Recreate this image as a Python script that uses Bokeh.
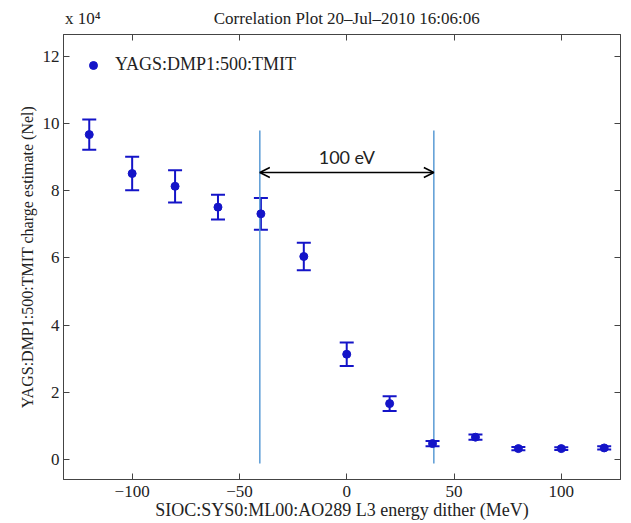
from bokeh.plotting import figure
from bokeh.models import (Whisker, TeeHead, Arrow, OpenHead, Legend, LegendItem,
                          LinearAxis, Label, ColumnDataSource, Range1d, FixedTicker,
                          CustomJSTickFormatter)
from bokeh.embed import file_html
from bokeh.resources import INLINE

# ---- data (charge in units of 1e4 Nel) ----
energy = [-120, -100, -80, -60, -40, -20, 0, 20, 40, 60, 80, 100, 120]
charge = [9.67, 8.51, 8.13, 7.51, 7.31, 6.04, 3.13, 1.66, 0.47, 0.66, 0.32, 0.32, 0.34]
charge_err = [0.45, 0.50, 0.48, 0.37, 0.47, 0.41, 0.35, 0.22, 0.08, 0.08, 0.05, 0.04, 0.05]
x_ticks = [-100, -50, 0, 50, 100]
y_ticks = [0, 2, 4, 6, 8, 10, 12]
window_x = [-40.5, 40.6]
window_y = [-0.12, 9.79]
arrow_y = 8.54
arrow_label = "100 eV"
series_name = "YAGS:DMP1:500:TMIT"
title_text = "Correlation Plot 20\u2013Jul\u20132010 16:06:06"
exponent_text = "x 10\u2074"
top_text_pos = [-123.0, 0]          # x positions of the exponent note and the title
top_texts = [exponent_text, title_text]
x_label = "SIOC:SYS0:ML00:AO289 L3 energy dither (MeV)"
y_label = "YAGS:DMP1:500:TMIT charge estimate (Nel)"

X_MIN, X_MAX = -132, 127.6
Y_MIN, Y_MAX = -0.6, 12.65

BLUE = "#1414c8"
SERIF = "Liberation Serif"
INK = "#222222"

src = ColumnDataSource(dict(
    x=energy, y=charge,
    upper=[c + e for c, e in zip(charge, charge_err)],
    lower=[c - e for c, e in zip(charge, charge_err)],
))

p = figure(width=631, height=523, output_backend="svg", toolbar_location=None,
           x_range=Range1d(X_MIN, X_MAX), y_range=Range1d(Y_MIN, Y_MAX),
           x_axis_location=None, y_axis_location=None,
           min_border_left=63, min_border_right=11, min_border_top=34, min_border_bottom=44)
p.grid.visible = False
p.outline_line_color = "#444444"
p.background_fill_color = "white"
p.border_fill_color = "white"

fmt = CustomJSTickFormatter(code="return tick < 0 ? '\\u2212' + Math.abs(tick) : String(tick);")
blank = CustomJSTickFormatter(code="return '';")


def style_axis(ax, labels=True):
    ax.major_tick_in = 6
    ax.major_tick_out = 0
    ax.minor_tick_in = 0
    ax.minor_tick_out = 0
    ax.axis_line_color = "#444444"
    ax.major_tick_line_color = "#444444"
    ax.major_label_text_font = SERIF
    ax.major_label_text_font_size = "17px"
    ax.major_label_text_color = INK
    ax.axis_label_text_font = SERIF
    ax.axis_label_text_font_size = "17px"
    ax.axis_label_text_font_style = "normal"
    ax.axis_label_text_color = INK
    if not labels:
        ax.major_label_text_font_size = "0px"
        ax.major_label_standoff = 0


xb = LinearAxis(ticker=FixedTicker(ticks=x_ticks), formatter=fmt, axis_label=x_label)
style_axis(xb)
xb.axis_label_text_font_size = "18px"
xb.major_label_standoff = 6
xb.axis_label_standoff = 0
p.add_layout(xb, "below")

yl = LinearAxis(ticker=FixedTicker(ticks=y_ticks), formatter=fmt, axis_label=y_label)
style_axis(yl)
yl.axis_label_text_font_size = "16px"
yl.major_label_standoff = 4
yl.axis_label_standoff = 4
p.add_layout(yl, "left")

xt = LinearAxis(ticker=FixedTicker(ticks=x_ticks), formatter=blank)
style_axis(xt, labels=False)
p.add_layout(xt, "above")

# title line (exponent note + title) drawn as a text row above the frame
title_axis = LinearAxis(ticker=FixedTicker(ticks=top_text_pos),
                        formatter=CustomJSTickFormatter(args=dict(labels=top_texts),
                                                        code="return labels[index];"))
style_axis(title_axis)
title_axis.major_tick_in = 0
title_axis.major_tick_out = 0
title_axis.axis_line_alpha = 0
title_axis.major_label_text_font_size = "17px"
title_axis.major_label_standoff = 7
p.add_layout(title_axis, "above")

yr = LinearAxis(ticker=FixedTicker(ticks=y_ticks), formatter=blank)
style_axis(yr, labels=False)
p.add_layout(yr, "right")

# window lines
p.segment(x0=window_x, x1=window_x, y0=[window_y[0]] * 2, y1=[window_y[1]] * 2,
          line_color="#5b9bd5", line_width=1.5)

# error bars
head = dict(size=14, line_color=BLUE, line_width=2)
p.add_layout(Whisker(source=src, base="x", upper="upper", lower="lower",
                     line_color=BLUE, line_width=2,
                     upper_head=TeeHead(**head), lower_head=TeeHead(**head)))
r = p.scatter("x", "y", source=src, size=8, color=BLUE)

# arrow and label
p.add_layout(Arrow(x_start=window_x[0], x_end=window_x[1], y_start=arrow_y, y_end=arrow_y,
                   start=OpenHead(size=10, line_width=1.5, line_color="black"),
                   end=OpenHead(size=10, line_width=1.5, line_color="black"),
                   line_width=1.5, line_color="black"))
p.add_layout(Label(x=(window_x[0] + window_x[1]) / 2, y=arrow_y, y_offset=5,
                   text=arrow_label, text_align="center", text_baseline="bottom",
                   text_font="Lato", text_font_size="18px", text_color=INK))

legend = Legend(items=[LegendItem(label=series_name, renderers=[r])], location="top_left",
                margin=10, padding=10, label_standoff=12,
                border_line_alpha=0, background_fill_alpha=0,
                label_text_font=SERIF, label_text_font_size="18px", label_text_color=INK)
p.add_layout(legend)

open("out.html", "w").write(file_html(p, INLINE))
